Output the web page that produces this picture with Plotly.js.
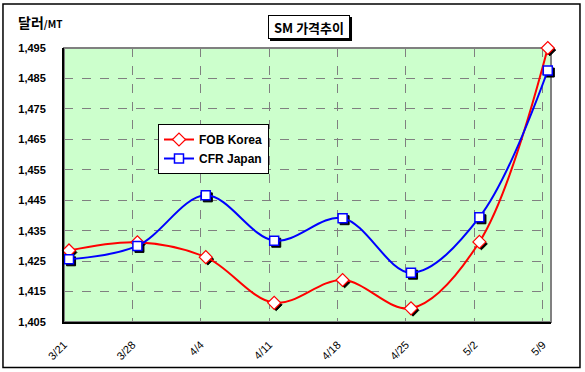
<!DOCTYPE html>
<html>
<head>
<meta charset="utf-8">
<script src="https://cdn.plot.ly/plotly-3.0.1.min.js"></script>
<style>html,body{margin:0;padding:0;background:#fff;}#chart{width:585px;height:372px;}</style>
</head>
<body>
<div id="chart"></div>
<script>
const categories = ['3/21','3/28','4/4','4/11','4/18','4/25','5/2','5/9'];
const fobKorea = [1428.5, 1431.2, 1426.3, 1411.3, 1418.8, 1409.5, 1431.3, 1495.0];
const cfrJapan = [1425.6, 1430.0, 1446.6, 1431.7, 1439.1, 1421.2, 1439.4, 1487.6];
const yTicks = [1405, 1415, 1425, 1435, 1445, 1455, 1465, 1475, 1485, 1495];

const idx = categories.map((c, i) => i);
const xRange = [-0.073, 7.047];
const yRange = [1405, 1495];
const dx = 0.03, dy = 0.66;

function shadow(y, sym) {
  return {x: idx, y: y, xaxis: 'x2', yaxis: 'y2', type: 'scatter', mode: 'markers',
    showlegend: false, hoverinfo: 'skip', cliponaxis: false,
    marker: {symbol: sym, size: 9, color: '#000', line: {color: '#000', width: 1}}};
}

const traces = [
  {x: idx, y: fobKorea, xaxis: 'x', yaxis: 'y', type: 'scatter', mode: 'none',
   showlegend: false, hoverinfo: 'skip'},
  shadow(fobKorea, 'diamond'),
  shadow(cfrJapan, 'square'),
  {x: idx, y: fobKorea, xaxis: 'x3', yaxis: 'y3', name: 'FOB Korea', type: 'scatter', mode: 'lines+markers',
   cliponaxis: false,
   line: {color: '#FF0000', width: 2, shape: 'spline', smoothing: 1},
   marker: {symbol: 'diamond', size: 10, color: '#FFFFFF', line: {color: '#FF0000', width: 1.2}}},
  {x: idx, y: cfrJapan, xaxis: 'x3', yaxis: 'y3', name: 'CFR Japan', type: 'scatter', mode: 'lines+markers',
   cliponaxis: false,
   line: {color: '#0000FF', width: 2, shape: 'spline', smoothing: 1},
   marker: {symbol: 'square', size: 9, color: '#FFFFFF', line: {color: '#0000FF', width: 1.5}}}
];

const layout = {
  width: 585, height: 372,
  margin: {l: 64, r: 34, t: 48, b: 50},
  paper_bgcolor: '#FFFFFF',
  plot_bgcolor: '#CCFFCC',
  font: {family: 'Liberation Sans, Arial, sans-serif', color: '#000'},
  showlegend: true,
  legend: {x: 0.193, y: 0.7226, xanchor: 'left', yanchor: 'top',
    bgcolor: '#FFFFFF', bordercolor: '#000', borderwidth: 1,
    font: {family: 'Liberation Sans, Arial, sans-serif', size: 12, color: '#000', weight: 'bold'},
    tracegroupgap: 0},
  xaxis: {range: xRange, tickvals: idx.map(i => i - 0.073), ticktext: categories,
    tickangle: -45, tickfont: {size: 11}, ticks: '', ticklabelstandoff: 10,
    showgrid: true, gridcolor: '#808080', griddash: 'dash', gridwidth: 1,
    zeroline: false, showline: true, linecolor: '#000', linewidth: 2, fixedrange: true},
  yaxis: {range: yRange, tickvals: yTicks, tickformat: ',', ticks: '',
    tickfont: {size: 11, weight: 'bold'}, ticklabelstandoff: 14,
    showgrid: true, gridcolor: '#808080', griddash: 'dash', gridwidth: 1,
    zeroline: false, showline: true, linecolor: '#000', linewidth: 2, fixedrange: true},
  xaxis2: {range: [xRange[0] - dx, xRange[1] - dx], overlaying: 'x', visible: false, fixedrange: true},
  yaxis2: {range: [yRange[0] + dy, yRange[1] + dy], overlaying: 'y', visible: false, fixedrange: true},
  xaxis3: {range: xRange, overlaying: 'x', visible: false, fixedrange: true},
  yaxis3: {range: yRange, overlaying: 'y', visible: false, fixedrange: true},
  shapes: [
    {type: 'rect', xref: 'paper', yref: 'paper', x0: 0, x1: 1, y0: 0, y1: 1,
     line: {color: '#808080', width: 2}, layer: 'below'},
    {type: 'rect', xref: 'paper', yref: 'paper', x0: -0.1253, x1: 1.0595, y0: -0.166, y1: 1.1606,
     line: {color: '#000', width: 1.5}},
    {type: 'rect', xref: 'paper', yref: 'paper', x0: 0.423, x1: 0.5914, y0: 1.0255, y1: 1.1131,
     fillcolor: '#000', line: {width: 0}}
  ],
  annotations: [
    {xref: 'paper', yref: 'paper', x: 0.4189, y: 1.1204, xanchor: 'left', yanchor: 'top',
     text: '<b>SM 가격추이</b>', showarrow: false, bgcolor: '#FFFFFF', bordercolor: '#000', borderwidth: 1,
     borderpad: 3, width: 74, height: 16,
     font: {family: 'Noto Sans CJK KR, sans-serif', size: 13, color: '#000'}},
    {xref: 'paper', yref: 'paper', x: -0.0986, y: 1.095, xanchor: 'left', yanchor: 'middle',
     text: '<b>달러<span style="font-size:10px">/MT</span></b>', showarrow: false,
     font: {family: 'Noto Sans CJK KR, sans-serif', size: 14, color: '#000'}}
  ]
};

Plotly.newPlot('chart', traces, layout, {displayModeBar: false, staticPlot: true});
</script>
</body>
</html>
